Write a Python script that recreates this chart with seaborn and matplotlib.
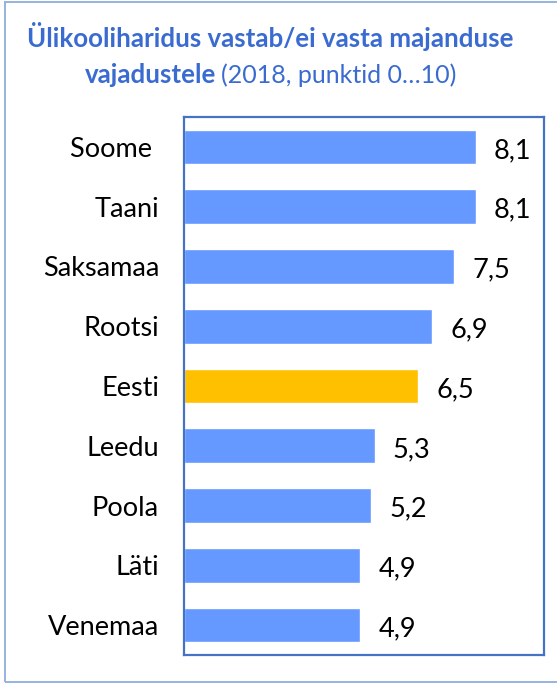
import matplotlib
matplotlib.use("Agg")
import matplotlib.pyplot as plt
import matplotlib.patches as mpatches
import seaborn as sns
import pandas as pd

countries = ["Soome ", "Taani", "Saksamaa", "Rootsi", "Eesti", "Leedu", "Poola", "Läti", "Venemaa"]
scores = [8.1, 8.1, 7.5, 6.9, 6.5, 5.3, 5.2, 4.9, 4.9]
value_labels = ["8,1", "8,1", "7,5", "6,9", "6,5", "5,3", "5,2", "4,9", "4,9"]
highlight = "Eesti"

title_bold_1 = "Ülikooliharidus vastab/ei vasta majanduse"
title_bold_2 = "vajadustele"
title_regular_2 = "(2018, punktid 0…10)"

BLUE = "#6699FF"
GOLD = "#FFC000"
TITLE_BLUE = "#3A6BD0"
FRAME = "#4472C4"
OUTER = "#95B3DF"

sns.set_theme(style="white")
plt.rcParams["font.family"] = ["Lato", "DejaVu Sans"]

df = pd.DataFrame({"country": countries, "score": scores})
palette = {c: (GOLD if c.strip() == highlight else BLUE) for c in countries}

W, H = 557, 686
fig = plt.figure(figsize=(W / 100, H / 100), dpi=100)
ax = fig.add_axes([184 / W, 1 - 655 / H, (544 - 184) / W, (655 - 117) / H])

sns.barplot(data=df, x="score", y="country", hue="country", palette=palette,
            order=countries, hue_order=countries, legend=False, width=0.58,
            saturation=1, ax=ax)

ax.set_xlim(0, 10)
ax.set_ylim(len(countries) - 0.5, -0.5)
ax.set_xlabel("")
ax.set_ylabel("")
ax.set_xticks([])
ax.tick_params(axis="y", length=0, pad=18, labelsize=19.5, labelcolor="black")
for s in ax.spines.values():
    s.set_visible(True)
    s.set_color(FRAME)
    s.set_linewidth(1.6)

for i, (v, lab) in enumerate(zip(scores, value_labels)):
    ax.text(v + 0.5, i + 0.06, lab, ha="left", va="center", fontsize=19.5, color="black")

# outer frame of the chart area
fig.add_artist(mpatches.Rectangle((5 / W, 4 / H), 1.2, 1 - 6 / H, transform=fig.transFigure,
                                  fill=False, edgecolor=OUTER, linewidth=1.4))

fig.text(270 / W, 1 - 47 / H, title_bold_1, ha="center", va="baseline",
         fontsize=18.6, fontweight="bold", color=TITLE_BLUE)
fig.text(216 / W, 1 - 83 / H, title_bold_2, ha="right", va="baseline",
         fontsize=18.6, fontweight="bold", color=TITLE_BLUE)
fig.text(221 / W, 1 - 83 / H, title_regular_2, ha="left", va="baseline",
         fontsize=18, color=TITLE_BLUE)

fig.savefig("out.png", dpi=100)
